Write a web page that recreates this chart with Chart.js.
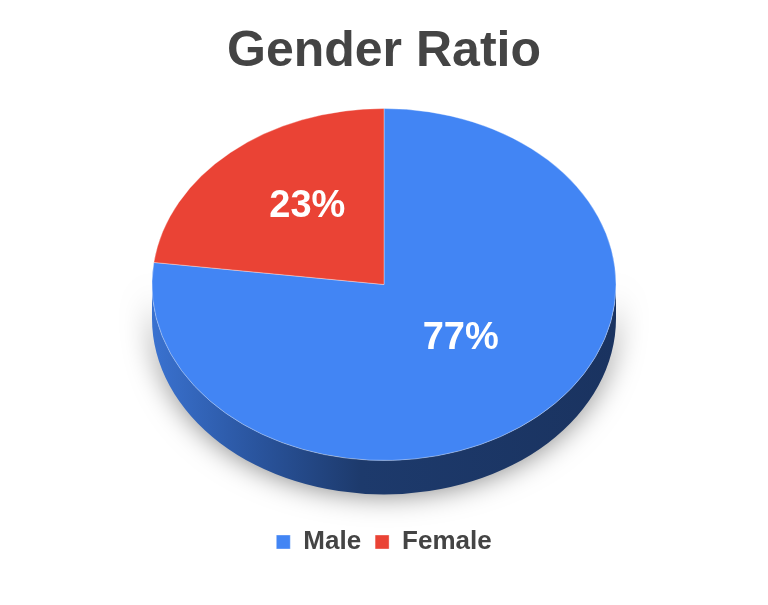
<!DOCTYPE html>
<html>
<head>
<meta charset="utf-8">
<script src="https://cdn.jsdelivr.net/npm/chart.js@4/dist/chart.umd.min.js"></script>
<style>
  html, body { margin: 0; padding: 0; background: #fff; }
  #wrap { width: 768px; height: 605px; }
</style>
</head>
<body>
<div id="wrap"><canvas id="genderChart"></canvas></div>
<script>
const labels = ['Male', 'Female'];
const shares = [77, 23];

const topColors = ['#4285f4', '#ea4335'];
const RX = 232;       // horizontal radius of the top face, px
const RY = 176;       // vertical radius of the top face, px
const DEPTH = 34;     // thickness of the side, px
const SHIFT = -20;    // move top face up so the solid sits centred
const LABEL_LIFT = 12;

function faceTransform(arc) {
  return { sx: RX / arc.outerRadius, sy: RY / arc.outerRadius, cy: arc.y + SHIFT };
}

function toScreen(arc, x, y) {
  const t = faceTransform(arc);
  return { x: arc.x + (x - arc.x) * t.sx, y: t.cy + (y - arc.y) * t.sy };
}

const pie3d = {
  id: 'pie3d',
  beforeDatasetsDraw(chart) {
    const ctx = chart.ctx;
    const arcs = chart.getDatasetMeta(0).data;
    const cx = arcs[0].x, cy = arcs[0].y, R = arcs[0].outerRadius;
    const t = faceTransform(arcs[0]);
    ctx.save();
    ctx.translate(cx, t.cy);
    ctx.scale(t.sx, t.sy);
    ctx.translate(-cx, -cy);
    const d = DEPTH / t.sy;
    arcs.forEach((a, i) => {
      [0, Math.PI * 2].forEach(k => {
        const s = Math.max(a.startAngle, k), e = Math.min(a.endAngle, k + Math.PI);
        if (e <= s) return;
        const g = ctx.createLinearGradient(cx - R, 0, cx + R, 0);
        if (i === 0) {
          g.addColorStop(0, '#3a72d0');
          g.addColorStop(0.22, '#2a559f');
          g.addColorStop(0.45, '#1d3a6c');
          g.addColorStop(1, '#1a3360');
        } else {
          g.addColorStop(0, '#c9372b');
          g.addColorStop(1, '#7a1f18');
        }
        ctx.save();
        ctx.shadowColor = 'rgba(0,0,0,0.5)';
        ctx.shadowBlur = 28;
        ctx.shadowOffsetY = 0;
        ctx.beginPath();
        ctx.arc(cx, cy, R, s, e);
        ctx.arc(cx, cy + d, R, e, s, true);
        ctx.closePath();
        ctx.fillStyle = g;
        ctx.fill();
        ctx.restore();
      });
    });
  },
  afterDatasetsDraw(chart) {
    const ctx = chart.ctx;
    ctx.restore();
    const arcs = chart.getDatasetMeta(0).data;
    ctx.save();
    ctx.fillStyle = '#ffffff';
    ctx.font = 'bold 38px "Liberation Sans", Arial, sans-serif';
    ctx.textAlign = 'center';
    ctx.textBaseline = 'middle';
    arcs.forEach((a, i) => {
      const mid = (a.startAngle + a.endAngle) / 2;
      const r = a.outerRadius * 0.5;
      const p = toScreen(a, a.x + Math.cos(mid) * r, a.y + Math.sin(mid) * r);
      ctx.fillText(shares[i] + '%', p.x, p.y - LABEL_LIFT);
    });
    ctx.restore();
  }
};

new Chart(document.getElementById('genderChart'), {
  type: 'pie',
  data: {
    labels: labels,
    datasets: [{
      data: shares,
      backgroundColor: topColors,
      borderColor: 'rgba(255,255,255,0.6)',
      borderWidth: 0.6
    }]
  },
  options: {
    responsive: true,
    maintainAspectRatio: false,
    animation: false,
    layout: { padding: { top: 0, bottom: 40 } },
    plugins: {
      title: {
        display: true,
        text: 'Gender Ratio',
        color: '#444444',
        font: { family: '"Liberation Sans", Arial, sans-serif', size: 50, weight: 'bold' },
        padding: { top: 22, bottom: 12 }
      },
      legend: {
        position: 'bottom',
        labels: {
          usePointStyle: true,
          pointStyle: 'rect',
          boxWidth: 14,
          boxHeight: 14,
          padding: 14,
          color: '#444444',
          font: { family: '"Liberation Sans", Arial, sans-serif', size: 26, weight: 'bold' }
        }
      },
      tooltip: { enabled: false }
    }
  },
  plugins: [pie3d]
});
</script>
</body>
</html>
